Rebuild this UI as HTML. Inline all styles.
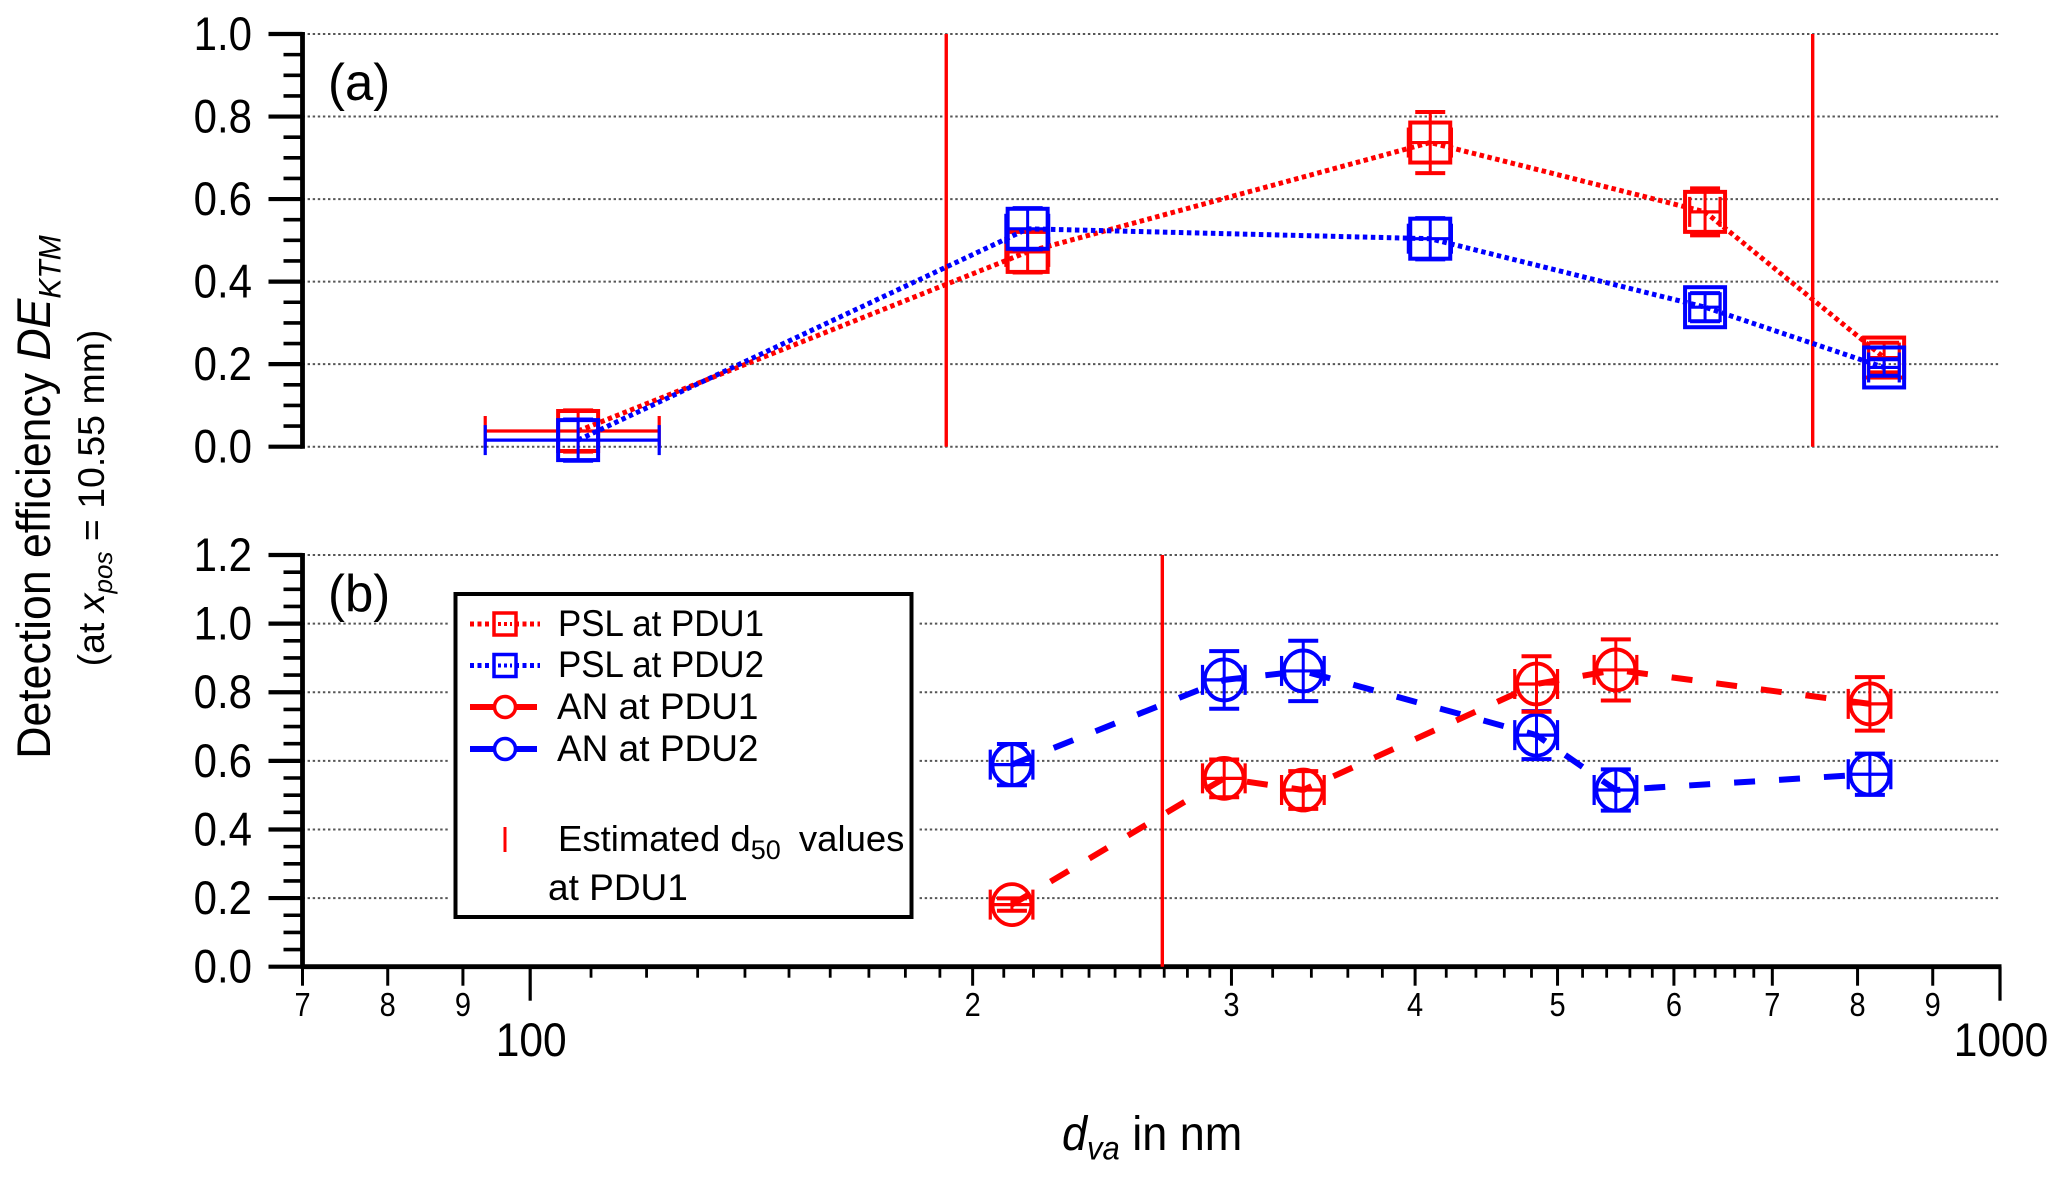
<!DOCTYPE html>
<html lang="en">
<head>
<meta charset="utf-8">
<title>Detection efficiency chart</title>
<style>
html,body{margin:0;padding:0;background:#fff;}
svg{display:block;font-family:"Liberation Sans",Arial,sans-serif;fill:#000;}
</style>
</head>
<body>
<svg id="chart" xmlns="http://www.w3.org/2000/svg" width="2067" height="1179" viewBox="0 0 2067 1179">
  <rect x="0" y="0" width="2067" height="1179" fill="#fff"/>
  <g id="layer-grid"></g>
  <g id="layer-axes"></g>
  <g id="layer-series"></g>

  <text transform="translate(328,100) scale(1.06,1.08)" font-size="48">(a)</text>
  <text transform="translate(328,611) scale(1.06,1.08)" font-size="48">(b)</text>

  <text transform="translate(50,497) rotate(-90) scale(1,1.06)" text-anchor="middle" font-size="44.6">Detection efficiency <tspan font-style="italic">DE</tspan><tspan font-style="italic" font-size="30" dy="10">KTM</tspan></text>
  <text transform="translate(104,498) rotate(-90)" text-anchor="middle" font-size="37.5">(at <tspan font-style="italic">x</tspan><tspan font-style="italic" font-size="26" dy="8">pos</tspan><tspan dy="-8"> = 10.55 mm)</tspan></text>
  <text transform="translate(1062,1150) scale(1,1.08)" font-size="45"><tspan font-style="italic">d</tspan><tspan font-style="italic" font-size="31" dy="9">va</tspan><tspan dy="-9"> in nm</tspan></text>

  <g id="legend">
    <rect x="448" y="586" width="470" height="337" fill="#fff"/>
    <rect x="455.5" y="594" width="456" height="323" fill="#fff" stroke="#000" stroke-width="4"/>

    <g>
      <line x1="470" y1="624" x2="540" y2="624" stroke="#f00" stroke-width="5" stroke-dasharray="4 3.5"/>
      <rect x="494" y="613" width="22" height="22" fill="#fff" stroke="#f00" stroke-width="3.5"/>
      <line x1="498" y1="624" x2="512" y2="624" stroke="#f00" stroke-width="4" stroke-dasharray="3 3"/>
      <text x="558" y="636" font-size="37" textLength="206" lengthAdjust="spacingAndGlyphs">PSL at PDU1</text>
    </g>
    <g>
      <line x1="470" y1="665.5" x2="540" y2="665.5" stroke="#00f" stroke-width="5" stroke-dasharray="4 3.5"/>
      <rect x="494" y="654.5" width="22" height="22" fill="#fff" stroke="#00f" stroke-width="3.5"/>
      <line x1="498" y1="665.5" x2="512" y2="665.5" stroke="#00f" stroke-width="4" stroke-dasharray="3 3"/>
      <text x="558" y="677" font-size="37" textLength="206" lengthAdjust="spacingAndGlyphs">PSL at PDU2</text>
    </g>
    <g>
      <line x1="470" y1="707" x2="537" y2="707" stroke="#f00" stroke-width="6"/>
      <circle cx="505" cy="707" r="10.5" fill="#fff" stroke="#f00" stroke-width="3.5"/>
      <text x="557" y="719" font-size="37">AN at PDU1</text>
    </g>
    <g>
      <line x1="470" y1="749" x2="537" y2="749" stroke="#00f" stroke-width="6"/>
      <circle cx="505" cy="749" r="10.5" fill="#fff" stroke="#00f" stroke-width="3.5"/>
      <text x="557" y="761" font-size="37">AN at PDU2</text>
    </g>
    <g>
      <line x1="505" y1="827" x2="505" y2="852" stroke="#f00" stroke-width="3"/>
      <text x="558" y="851" font-size="36.5">Estimated d<tspan font-size="27" dy="8">50</tspan><tspan dy="-8" dx="8"> values</tspan></text>
      <text x="548" y="900" font-size="37">at PDU1</text>
    </g>
  </g>
</svg>

<script>
// ---- chart data ----
const pslSizes = [107.8, 218, 409.6, 630, 834];
const pslXErr = [14.6, 7.3, 13.8, 15, 20];
const pslPdu1 = [0.038, 0.472, 0.737, 0.569, 0.216];
const pslPdu1Err = [0.05, 0.05, 0.074, 0.057, 0.036];
const pslPdu2 = [0.016, 0.528, 0.504, 0.338, 0.192];
const pslPdu2Err = [0.05, 0.05, 0.05, 0.034, 0.02];

const anSizes = [212.7, 296.6, 335.7, 483.8, 547.8, 815.6];
const anXErr = [7.1, 9.9, 11.2, 16.2, 18.3, 27.2];
const anPdu1 = [0.181, 0.549, 0.515, 0.824, 0.865, 0.766];
const anPdu1Err = [0.018, 0.055, 0.055, 0.081, 0.089, 0.078];
const anPdu2 = [0.589, 0.836, 0.862, 0.675, 0.515, 0.561];
const anPdu2Err = [0.06, 0.084, 0.088, 0.07, 0.06, 0.06];

const d50PanelA = [191.9, 745.7];
const d50PanelB = [269.2];

const yTicksA = [0, 0.2, 0.4, 0.6, 0.8, 1.0];
const yTicksB = [0, 0.2, 0.4, 0.6, 0.8, 1.0, 1.2];
const xLabelledTicks = [70, 80, 90, 200, 300, 400, 500, 600, 700, 800, 900];
const xLabelledText = ['7', '8', '9', '2', '3', '4', '5', '6', '7', '8', '9'];
const xDecadeTicks = [100, 1000];
const xDecadeText = ['100', '1000'];
const xMinorTicks = [110, 120, 130, 140, 150, 160, 170, 180, 190, 210, 220, 230, 240, 250, 260, 270, 280, 290, 320, 340, 360, 380, 420, 440, 460, 480, 520, 540, 560, 580, 620, 640, 660, 680];

// ---- axis functions ----
const xMinDomain = 70, xMaxDomain = 1000, plotLeft = 302.5, plotRight = 2000;
function xScale(v) {
  return plotLeft + (plotRight - plotLeft) * Math.log10(v / xMinDomain) / Math.log10(xMaxDomain / xMinDomain);
}
function yScaleA(v) { return 446.7 - v * (446.7 - 34); }
function yScaleB(v) { return 966.7 - v * (966.7 - 555) / 1.2; }

const NS = 'http://www.w3.org/2000/svg';
const gridLayer = document.getElementById('layer-grid');
const axesLayer = document.getElementById('layer-axes');
const seriesLayer = document.getElementById('layer-series');

function mk(tag, parent, props) {
  const n = document.createElementNS(NS, tag);
  for (const k in props) n.setAttribute(k, props[k]);
  parent.appendChild(n);
  return n;
}
function drawLine(parent, x1, y1, x2, y2, stroke, width, extra) {
  const props = { x1: x1, y1: y1, x2: x2, y2: y2, stroke: stroke, 'stroke-width': width };
  if (extra) Object.assign(props, extra);
  return mk('line', parent, props);
}
function stretchedText(parent, x, y, anchor, size, sy, str) {
  const t = mk('text', parent, { transform: 'translate(' + x + ',' + y + ') scale(1,' + sy + ')', 'text-anchor': anchor, 'font-size': size });
  t.textContent = str;
  return t;
}

// ---- y axes + grids ----
function drawYAxis(name, ticks, yFn, topValue) {
  const axis = mk('g', axesLayer, {});
  
  
  drawLine(axis, plotLeft, yFn(topValue) - 2, plotLeft, yFn(0) + 2, '#000', 4.8);
  const steps = Math.round(topValue / 0.05);
  for (let i = 0; i <= steps; i++) {
    const v = i * 0.05;
    const major = i % 4 === 0;
    const t = drawLine(axis, plotLeft - (major ? 34 : 19), yFn(v), plotLeft, yFn(v), '#000', major ? 4.2 : 3.6);
    
    
  }
  ticks.forEach(function (v) {
    const label = stretchedText(axis, 252, yFn(v) + 16, 'end', 42, 1.12, v.toFixed(1));
    
    
    if (name === 'panel-a' || v > 0) {
      const g = drawLine(gridLayer, plotLeft, yFn(v), plotRight, yFn(v), '#555', 2, { 'stroke-dasharray': '2.4 2.7' });
      
      
    }
  });
}
drawYAxis('panel-a', yTicksA, yScaleA, 1.0);
drawYAxis('panel-b', yTicksB, yScaleB, 1.2);

// ---- x axis ----
const xAxis = mk('g', axesLayer, {});


const xBase = yScaleB(0);
drawLine(xAxis, plotLeft, xBase, plotRight + 1.5, xBase, '#000', 4.8);
xMinorTicks.forEach(function (v) {
  const t = drawLine(xAxis, xScale(v), xBase, xScale(v), xBase + 11, '#000', 2.8);
  
  
});
xLabelledTicks.forEach(function (v, i) {
  const t = drawLine(xAxis, xScale(v), xBase, xScale(v), xBase + 19, '#000', 3);
  
  
  const label = stretchedText(xAxis, xScale(v), 1016, 'middle', 29, 1.14, xLabelledText[i]);
  
  
});
xDecadeTicks.forEach(function (v, i) {
  const t = drawLine(xAxis, xScale(v), xBase, xScale(v), xBase + 34, '#000', 3.2);
  
  
  const label = stretchedText(xAxis, xScale(v) + 1, 1056, 'middle', 42.5, 1.12, xDecadeText[i]);
  
  
});

// ---- d50 lines ----
d50PanelA.forEach(function (v) {
  const l = drawLine(seriesLayer, xScale(v), yScaleA(1), xScale(v), yScaleA(0), '#f00', 3.4);
  
  
});
d50PanelB.forEach(function (v) {
  const l = drawLine(seriesLayer, xScale(v), yScaleB(1.2), xScale(v), yScaleB(0), '#f00', 3.4);
  
  
});

// ---- series ----
function drawSeries(name, color, xs, xErrs, ys, yErrs, yFn, marker, dash, lineWidth) {
  const group = mk('g', seriesLayer, {});
  
  

  const pts = xs.map(function (x, i) { return xScale(x).toFixed(1) + ',' + yFn(ys[i]).toFixed(1); }).join(' ');
  const poly = mk('polyline', group, { points: pts, fill: 'none', stroke: color, 'stroke-width': lineWidth, 'stroke-dasharray': dash });
  
  

  xs.forEach(function (x, i) {
    const cx = xScale(x), cy = yFn(ys[i]);
    const top = yFn(ys[i] + yErrs[i]), bot = yFn(ys[i] - yErrs[i]);
    const left = xScale(x - xErrs[i]), right = xScale(x + xErrs[i]);

    const err = mk('g', group, {});
    
    
    drawLine(err, cx, top, cx, bot, color, 3);
    drawLine(err, cx - 15, top, cx + 15, top, color, 4);
    drawLine(err, cx - 15, bot, cx + 15, bot, color, 4);
    drawLine(err, left, cy, right, cy, color, 3.2);
    drawLine(err, left, cy - 15, left, cy + 15, color, 3.2);
    drawLine(err, right, cy - 15, right, cy + 15, color, 3.2);

    const m = marker === 'square'
      ? mk('rect', group, { x: cx - 20, y: cy - 20, width: 40, height: 40, fill: 'none', stroke: color, 'stroke-width': 4 })
      : mk('ellipse', group, { cx: cx, cy: cy, rx: 19.5, ry: 20.5, fill: 'none', stroke: color, 'stroke-width': 3.8 });
    
    
  });
}

drawSeries('psl-pdu1', '#f00', pslSizes, pslXErr, pslPdu1, pslPdu1Err, yScaleA, 'square', '4.5 3.5', 5);
drawSeries('psl-pdu2', '#00f', pslSizes, pslXErr, pslPdu2, pslPdu2Err, yScaleA, 'square', '4.5 3.5', 5);
drawSeries('an-pdu2', '#00f', anSizes, anXErr, anPdu2, anPdu2Err, yScaleB, 'circle', '21 24', 6);
drawSeries('an-pdu1', '#f00', anSizes, anXErr, anPdu1, anPdu1Err, yScaleB, 'circle', '21 24', 6);
</script>
</body>
</html>
